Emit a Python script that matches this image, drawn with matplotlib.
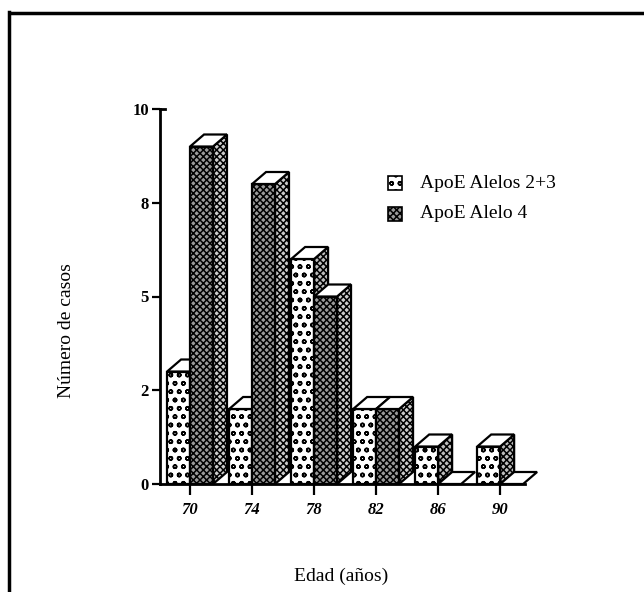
import numpy as np
from matplotlib import pyplot as plt
from matplotlib import rc
from matplotlib.patches import Polygon, Rectangle
from matplotlib.lines import Line2D

rc('font', **{'family': 'serif', 'serif': ['Liberation Serif', 'DejaVu Serif']})
rc('hatch', linewidth=1.1)

edad = np.array([70, 74, 78, 82, 86, 90])
alelos_23 = np.array([3, 2, 6, 2, 1, 1])
alelo_4 = np.array([9, 8, 5, 2, 0, 0])

y_ticks = [0, 2.5, 5, 7.5, 10]
y_tick_labels = ['0', '2', '5', '8', '10']

bar_w = 1.48      # years
depth_x = 0.9     # years
depth_y = 0.32    # casos


def bar3d(ax, x0, v, front, side, hatch_front, hatch_side):
    """
    draws one oblique 3d bar with front, side and top faces
    """
    x1 = x0 + bar_w
    if v > 0:
        ax.add_patch(Polygon([(x1, 0), (x1 + depth_x, depth_y), (x1 + depth_x, v + depth_y), (x1, v)],
                             closed=True, facecolor=side, edgecolor='k', hatch=hatch_side,
                             lw=1.6, clip_on=False, zorder=3))
        ax.add_patch(Rectangle((x0, 0), bar_w, v, facecolor=front, edgecolor='k',
                               hatch=hatch_front, lw=1.6, clip_on=False, zorder=3))
    ax.add_patch(Polygon([(x0, v), (x1, v), (x1 + depth_x, v + depth_y), (x0 + depth_x, v + depth_y)],
                         closed=True, facecolor='white', edgecolor='k', lw=1.6,
                         clip_on=False, zorder=3))


fig = plt.figure(figsize=(6.44, 5.92), dpi=100)
ax = fig.add_axes([160/644, 108/592, 365/644, 375/592])

for t, a, b in zip(edad, alelos_23, alelo_4):
    bar3d(ax, t - bar_w, a, 'white', '#bdbdbd', 'oo', 'xxxxx')
    bar3d(ax, t, b, '#9a9a9a', '#cccccc', 'xxxxx', 'xxxxx')

ax.set_xlim(68.06, 91.6)
ax.set_ylim(0, 10)
ax.set_xticks(edad)
ax.set_xticklabels([str(e) for e in edad], fontsize=12, fontweight='bold', style='italic')
ax.set_yticks(y_ticks)
ax.set_yticklabels(y_tick_labels, fontsize=12, fontweight='bold')
ax.tick_params(axis='x', direction='out', length=8, width=1.6, pad=5)
ax.tick_params(axis='y', direction='out', length=6, width=1.6, pad=2)
for s in ['top', 'right']:
    ax.spines[s].set_visible(False)
for s in ['left', 'bottom']:
    ax.spines[s].set_linewidth(2)
ax.patch.set_alpha(0)
# small hook at the top of the y axis
ax.plot([68.06, 68.4], [10, 10], color='k', lw=2, clip_on=False)

ax.set_ylabel('Número de casos', fontsize=14)
ax.yaxis.set_label_coords(-85/365, 0.41)
ax.set_xlabel('Edad (años)', fontsize=14)
ax.xaxis.set_label_coords(0.496, -0.224)

# legend
fig.add_artist(Rectangle((388/644, 1 - 190/592), 14/644, 14/592, transform=fig.transFigure,
                         facecolor='white', edgecolor='k', hatch='oo', lw=1.2))
fig.add_artist(Rectangle((388/644, 1 - 221/592), 14/644, 14/592, transform=fig.transFigure,
                         facecolor='#9a9a9a', edgecolor='k', hatch='xxxxx', lw=1.2))
fig.text(420/644, 1 - 183/592, 'ApoE Alelos 2+3', fontsize=14, va='center')
fig.text(420/644, 1 - 214/592, 'ApoE Alelo 4', fontsize=14, va='center')

# frame
fig.add_artist(Line2D([10/644, 1], [1 - 13/592, 1 - 13/592], color='k', lw=2.5))
fig.add_artist(Line2D([9/644, 9/644], [0, 1 - 12/592], color='k', lw=2.5))

fig.savefig('out.png', dpi=100)
